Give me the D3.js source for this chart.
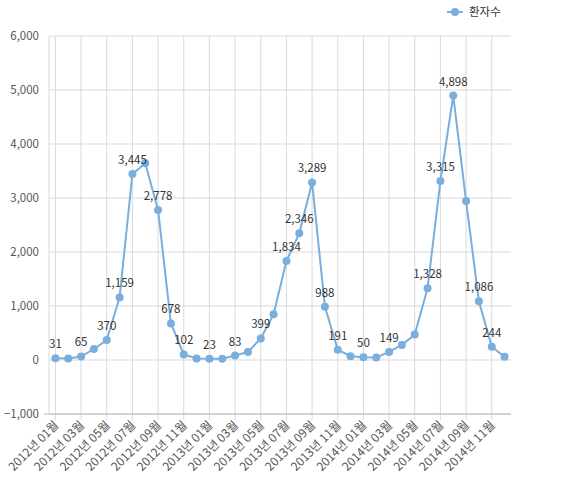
<!DOCTYPE html>
<html><head><meta charset="utf-8">
<script src="https://cdn.jsdelivr.net/npm/d3@7"></script>
<style>body{margin:0;background:#fff;font-family:"Noto Sans CJK KR","Noto Sans",sans-serif;}</style>
</head><body><svg id="c" width="565" height="486"></svg>
<script>
var months = [];
[2012, 2013, 2014].forEach(y => { for (var m = 1; m <= 12; m++) months.push(y + "년 " + (m < 10 ? "0" : "") + m + "월"); });
var values = [31, 30, 65, 204, 370, 1159, 3445, 3642, 2778, 678, 102, 30,
              23, 25, 83, 150, 399, 846, 1834, 2346, 3289, 988, 191, 70,
              50, 45, 149, 280, 470, 1328, 3315, 4898, 2944, 1086, 244, 60];
var labeled = [0, 2, 4, 5, 6, 8, 9, 10, 12, 14, 16, 18, 19, 20, 21, 22, 24, 26, 29, 30, 31, 33, 34];
var yTicks = [-1000, 0, 1000, 2000, 3000, 4000, 5000, 6000];

var svg = d3.select("#c");
var pLeft = 49, pRight = 511, pTop = 36, pBottom = 414;
var x = d3.scaleLinear().domain([-0.5, 35.5]).range([pLeft, pRight]);
var y = d3.scaleLinear().domain([-1000, 6000]).range([pBottom, pTop]);
var fmt = d3.format(",");
var col = "#7aaedc";

// grid
svg.selectAll(".hg").data(yTicks).join("line")
  .attr("x1", pLeft).attr("x2", pRight).attr("y1", d => y(d)).attr("y2", d => y(d))
  .attr("stroke", "#d9d9d9");
var vIdx = d3.range(0, 36, 2);
svg.selectAll(".vg").data(vIdx).join("line")
  .attr("x1", d => x(d)).attr("x2", d => x(d)).attr("y1", pTop).attr("y2", pBottom + 6)
  .attr("stroke", "#d9d9d9");
svg.append("line").attr("x1", pLeft).attr("x2", pLeft).attr("y1", pTop).attr("y2", pBottom).attr("stroke", "#d9d9d9");
svg.append("line").attr("x1", pLeft - 5).attr("x2", pRight).attr("y1", pBottom).attr("y2", pBottom).attr("stroke", "#a9bcd0");

svg.selectAll(".yl").data(yTicks).join("text")
  .attr("x", pLeft - 10).attr("y", d => y(d) + 4).attr("text-anchor", "end")
  .attr("font-size", 11.5).attr("fill", "#555").text(d => fmt(d));

svg.selectAll(".xl").data(vIdx).join("text")
  .attr("transform", d => "translate(" + (x(d) + 4) + "," + (pBottom + 12) + ") rotate(-45)")
  .attr("text-anchor", "end").attr("font-size", 12).attr("fill", "#555")
  .text(d => months[d]);

var line = d3.line().x((d, i) => x(i)).y(d => y(d));
svg.append("path").datum(values).attr("d", line).attr("fill", "none").attr("stroke", col).attr("stroke-width", 2);
svg.selectAll(".pt").data(values).join("circle")
  .attr("cx", (d, i) => x(i)).attr("cy", d => y(d)).attr("r", 4).attr("fill", col);

svg.selectAll(".dl").data(labeled).join("text")
  .attr("x", d => x(d)).attr("y", d => y(values[d]) - 10).attr("text-anchor", "middle")
  .attr("font-size", 11.5).attr("fill", "#333").text(d => fmt(values[d]));

// legend
var lg = svg.append("g").attr("transform", "translate(447,12)");
lg.append("line").attr("x1", 0).attr("x2", 16).attr("stroke", col).attr("stroke-width", 2);
lg.append("circle").attr("cx", 8).attr("r", 4).attr("fill", col);
lg.append("text").attr("x", 22).attr("y", 4).attr("font-size", 11.5).attr("fill", "#333").text("환자수");
</script></body></html>
